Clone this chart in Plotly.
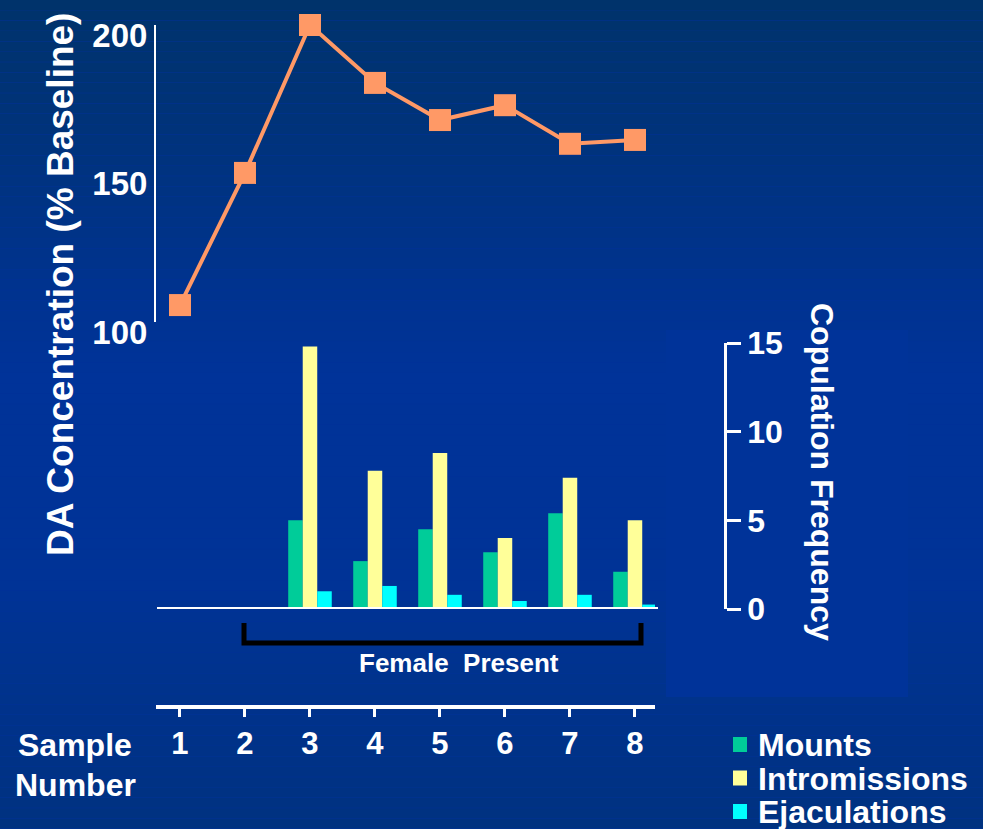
import plotly.graph_objects as go

# data
samples = [1, 2, 3, 4, 5, 6, 7, 8]
sample_labels = ['1', '2', '3', '4', '5', '6', '7', '8']
da_conc = [105.7, 150.2, 200.0, 180.5, 168.0, 173.0, 160.0, 161.3]
mounts = [0, 0, 5.0, 2.7, 4.5, 3.2, 5.4, 2.1]
intromissions = [0, 0, 14.8, 7.8, 8.8, 4.0, 7.4, 5.0]
ejaculations = [0, 0, 1.0, 1.3, 0.8, 0.45, 0.8, 0.25]
da_ticks = [100, 150, 200]
freq_ticks = [0, 5, 10, 15]
series_names = ['Mounts', 'Intromissions', 'Ejaculations']
series_colors = ['#00CC99', '#FFFF99', '#00FFFF']

W, H = 983, 829
FONT = 'Liberation Sans'


def px(x):
    return x / W


def py(y):
    return 1 - y / H


def bold(size):
    return dict(size=size, color='white', family=FONT, weight='bold')


fig = go.Figure()

fig.add_trace(go.Scatter(
    x=samples, y=da_conc, mode='lines+markers', xaxis='x', yaxis='y',
    line=dict(color='#FF9966', width=4),
    marker=dict(symbol='square', size=22, color='#FF9966'),
    cliponaxis=False, showlegend=False))

for name, vals, col in zip(series_names, [mounts, intromissions, ejaculations], series_colors):
    fig.add_trace(go.Bar(x=samples, y=vals, name=name, xaxis='x', yaxis='y2',
                         marker=dict(color=col, line=dict(width=0)), showlegend=False))

# gradient background drawn as thin bands
shapes = []
stops = [(0.0, (0, 51, 106)), (0.45, (0, 51, 153)), (0.7, (0, 51, 150)), (1.0, (0, 50, 128))]
n = 80
for i in range(n):
    t = (i + 0.5) / n
    for (t0, c0), (t1, c1) in zip(stops[:-1], stops[1:]):
        if t0 <= t <= t1:
            f = (t - t0) / (t1 - t0)
            c = tuple(round(a + (b - a) * f) for a, b in zip(c0, c1))
            break
    shapes.append(dict(type='rect', xref='paper', yref='paper', x0=0, x1=1,
                       y0=1 - i / n, y1=1 - (i + 1) / n + 0.0005, layer='below',
                       line=dict(width=0), fillcolor='rgb(%d,%d,%d)' % c))
# lighter panel behind right axis
shapes.append(dict(type='rect', xref='paper', yref='paper', x0=px(666), x1=px(908),
                   y0=py(697), y1=py(330), layer='below', line=dict(width=0),
                   fillcolor='#003399'))
# bar baseline
shapes.append(dict(type='line', xref='paper', yref='y2', x0=px(157), x1=px(658),
                   y0=0, y1=0, line=dict(color='white', width=4)))
# female present bracket
shapes.append(dict(type='path', xref='paper', yref='paper',
                   path='M %f %f L %f %f L %f %f L %f %f' % (
                       px(244), py(623), px(244), py(643), px(641), py(643), px(641), py(623)),
                   line=dict(color='black', width=5)))


def label(text, x, y, size, angle=0, xanchor='center'):
    return dict(text=text, x=px(x), y=py(y), xref='paper', yref='paper', textangle=angle,
                xanchor=xanchor, yanchor='middle', showarrow=False, font=bold(size))


annotations = [
    label('DA Concentration (% Baseline)', 60, 285, 37, angle=-90),
    label('Copulation Frequency', 822, 472, 32, angle=90),
    label('Female  Present', 459, 663, 26),
    label('Sample', 75, 745, 32),
    label('Number', 75, 785, 32),
]

# legend keys and labels
for k, (name, col) in enumerate(zip(series_names, series_colors)):
    yc = 745 + k * 33.5
    shapes.append(dict(type='rect', xref='paper', yref='paper', x0=px(733), x1=px(747),
                       y0=py(yc + 7), y1=py(yc - 8), line=dict(width=0), fillcolor=col))
    annotations.append(label(name, 756, yc, 32, xanchor='left'))

fig.update_layout(
    width=W, height=H, margin=dict(l=0, r=0, t=0, b=0, autoexpand=False),
    paper_bgcolor='#003399', plot_bgcolor='rgba(0,0,0,0)',
    barmode='group', bargap=0.33, bargroupgap=0, showlegend=False,
    shapes=shapes, annotations=annotations,
    xaxis=dict(domain=[px(156), px(655)], range=[0.631, 8.308], anchor='free', position=py(707),
               tickvals=samples, ticktext=sample_labels, showline=True, linecolor='white',
               linewidth=4, ticks='outside', tickcolor='white', ticklen=8, tickwidth=3,
               showgrid=False, zeroline=False, automargin=False, tickfont=bold(31)),
    yaxis=dict(domain=[py(322), py(25)], range=[100, 200], anchor='x', tickvals=da_ticks,
               showline=True, linecolor='white', linewidth=2, ticks='', showgrid=False,
               zeroline=False, tickfont=bold(33), ticklabelshift=10, automargin=False),
    yaxis2=dict(domain=[py(609), py(343)], range=[0, 15], anchor='free', position=px(725),
                side='right', tickvals=freq_ticks, showline=True, linecolor='white', linewidth=2.5,
                ticks='outside', tickcolor='white', ticklen=14, tickwidth=2.5, showgrid=False,
                zeroline=False, tickfont=bold(32), automargin=False),
)

fig.write_html('out.html', config={'displayModeBar': False},
               post_script="document.body.style.margin='0';document.body.style.overflow='hidden';")
